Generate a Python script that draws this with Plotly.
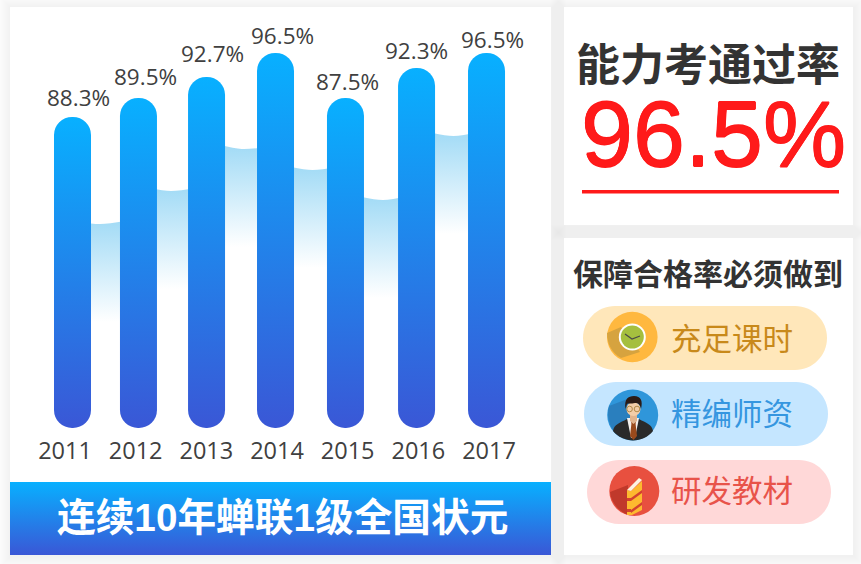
import plotly.graph_objects as go

# values printed above the bars
years = [2011, 2012, 2013, 2014, 2015, 2016, 2017]
rate_labels = ["88.3%", "89.5%", "92.7%", "96.5%", "87.5%", "92.3%", "96.5%"]

# drawn bar heights (the source art is not to scale with its labels)
bar_heights = [311, 330, 351, 375, 330, 360, 375]

# wave surface in each gap between two bars: left edge, middle, right edge
wave_left = [206, 240, 283, 261, 231, 295]
wave_mid = [204, 237, 279, 258, 228, 292]
wave_right = [207, 240, 281, 261, 232, 296]

feature_labels = ["充足课时", "精编师资", "研发教材"]
headline = "能力考通过率"
headline_value = "96.5%"
subhead = "保障合格率必须做到"
banner_text = "连续10年蝉联1级全国状元"

W, H = 861, 564
CJK = "Noto Sans CJK SC"
ARIAL_CJK = "Liberation Sans, Noto Sans CJK SC"
LATIN = "Open Sans"

BASE_Y = 428          # pixel row of the bars' foot
YEAR_STEP = 70.67     # pixels per year on the tick axis
FIRST_TICK = 65
BAR_W = 37
RADIUS = 18.5

# the artwork spaces bars a little unevenly against the year labels
bar_nudge = [7.5, 2.8, 0.2, -1.5, -2.2, -1.8, -2.5]
label_nudge = [13, 10, 6, 5, 0, -2, 3]
label_lift = [20, 22, 24, 18, 17, 18, 14]

year_range = [years[0] - FIRST_TICK / YEAR_STEP, years[0] + (W - FIRST_TICK) / YEAR_STEP]
height_range = [BASE_Y - H, BASE_Y]


def rect(x0, y0, x1, y1, color, opacity=1, layer="below"):
    return dict(type="rect", xref="x", yref="y", x0=x0, y0=y0, x1=x1, y1=y1,
                fillcolor=color, opacity=opacity, line_width=0, layer=layer)


def circle(cx, cy, r, color, line=None, layer="above"):
    return dict(type="circle", xref="x", yref="y", x0=cx - r, y0=cy - r, x1=cx + r, y1=cy + r,
                fillcolor=color, line=dict(width=1 if line else 0, color=line or color), layer=layer)


def path(d, color, line=None, width=0, layer="above"):
    return dict(type="path", xref="x", yref="y", path=d, fillcolor=color,
                line=dict(width=width, color=line or color), layer=layer)


def pill(x0, y0, x1, y1, color):
    r = (y1 - y0) / 2
    k = r * 0.448
    d = (
        f"M {x0 + r},{y0} L {x1 - r},{y0} C {x1 - k},{y0} {x1},{y0 + k} {x1},{y0 + r} "
        f"C {x1},{y1 - k} {x1 - k},{y1} {x1 - r},{y1} L {x0 + r},{y1} "
        f"C {x0 + k},{y1} {x0},{y1 - k} {x0},{y0 + r} C {x0},{y0 + k} {x0 + k},{y0} {x0 + r},{y0} Z"
    )
    return path(d, color, layer="below")


def note(x, y, text, size, color, family=CJK, bold=False, shadow=None):
    return dict(xref="x", yref="y", x=x, y=y, text=text, showarrow=False, xanchor="center",
                yanchor="middle", font=dict(family=family, size=size, color=color,
                                            weight=700 if bold else 400, shadow=shadow or "none"))


panels = [(10, 7, 551, 555), (564, 7, 853, 225), (564, 238, 853, 555)]
shapes = []
for x0, y0, x1, y1 in panels:
    for grow in range(1, 15):
        shapes.append(rect(x0 - grow + 1, y0 - grow + 1, x1 + grow + 1, y1 + grow + 1, "#000000", 0.0042))
for x0, y0, x1, y1 in panels:
    shapes.append(rect(x0, y0, x1, y1, "#ffffff"))

shapes.append(rect(582, 190, 839, 193.5, "#ff1a1a", layer="above"))
shapes.append(pill(583, 306, 827, 370, "#ffe7ba"))
shapes.append(pill(584, 382, 828, 446, "#c5e6ff"))
shapes.append(pill(587, 460, 831, 524, "#ffd8d8"))

# clock icon
shapes += [
    circle(632.3, 337, 25.3, "#ffb83f"),
    path("M 621,327 L 607,333 C 607,344 612,353 621,358 L 640,352 Z", "#d6a33f"),
    circle(632.3, 337, 13.5, "#ffffff"),
    circle(632.3, 337, 11.5, "#a5bf3f"),
    path("M 625,334 L 632,339 L 640,336", "rgba(0,0,0,0)", "#4a4a48", 1.2),
]

# teacher icon
shapes += [
    circle(632.7, 415, 25.5, "#2f96da"),
    path("M 630,398 L 609,406 C 606,418 610,430 620,437 L 640,437 Z", "#2a7fbe"),
    path("M 627,419 C 620,423 614,424 613,431 C 618,437 626,440.5 633,440.5 "
         "C 641,440.5 648,437 653,431 C 652,424 646,423 639,419 Z", "#2a2a2a"),
    path("M 627,418 L 639,418 L 635,438 L 631,438 Z", "#f4f1ee"),
    path("M 631,421 L 636,421 L 635.6,424 L 637,436 L 633.5,440 L 630,436 L 631.4,424 Z", "#9a4a1c"),
    path("M 630,414 L 637,414 L 637,421 L 633.5,424 L 630,421 Z", "#e0b48e"),
    circle(633.5, 409, 7, "#f2cda8"),
    path("M 625.5,409 C 624,399 628,396 634,396 C 641,396 643,401 641,409 "
         "C 640,404 638,403 635,403 C 631,404 628,403 627,404 Z", "#2b1b16"),
    circle(629.6, 409, 2.8, "rgba(0,0,0,0)", "#b08a4a"),
    circle(637, 409, 2.8, "rgba(0,0,0,0)", "#b08a4a"),
]

# book icon
shapes += [
    circle(634.3, 491, 25, "#e8503f"),
    path("M 628,485 L 610,492 C 611,502 618,511 628,515 Z", "#c0392b"),
    path("M 627,490 L 631,491 L 642,481 L 642,510 L 632,515 L 627,515 Z", "#fdb92f"),
    path("M 627,490 L 639,478 L 642,480 L 631,491 Z", "#fdf4e0"),
    path("M 631,498 L 642,490 L 642,493 L 631,501 Z", "#d2412f"),
    path("M 631,510 L 642,502 L 642,505 L 631,513 Z", "#d2412f"),
    path("M 627,498 L 631,498 L 631,501 L 627,501 Z", "#d2412f"),
    path("M 627,509 L 631,509 L 631,512 L 627,512 Z", "#d2412f"),
]

fig = go.Figure()

# bottom banner lives on the pixel axes so its gradient stays exact
fig.add_trace(go.Scatter(
    x=[10, 551, 551, 10, 10], y=[482, 482, 555, 555, 482], mode="lines", fill="toself",
    line=dict(width=0), hoverinfo="skip", showlegend=False, xaxis="x", yaxis="y",
    fillgradient=dict(type="vertical", colorscale=[[0, "#3a57d6"], [1, "#08b0ff"]]),
))

# translucent wave between the bars, one fade per gap
for i in range(len(years) - 1):
    yr = years[i]
    fig.add_trace(go.Scatter(
        x=[yr + 0.2, yr + 0.5, yr + 0.85], y=[wave_left[i], wave_mid[i], wave_right[i]],
        mode="lines", line=dict(width=0, shape="spline"), fill="tozeroy",
        fillgradient=dict(type="vertical", colorscale=[[0, "#ffffff"], [1, "#a5dcf6"]],
                          start=wave_mid[i] - 98, stop=wave_mid[i]),
        hoverinfo="skip", showlegend=False, xaxis="x2", yaxis="y2",
    ))

# a non-zero base makes plotly round both ends of the bar
offsets = [(n - BAR_W / 2) / YEAR_STEP for n in bar_nudge]
fig.add_trace(go.Bar(
    x=years, y=bar_heights, base=0.01, width=BAR_W / YEAR_STEP, offset=offsets,
    marker=dict(color="#1f86ea", cornerradius=RADIUS, line_width=0),
    hoverinfo="skip", showlegend=False, xaxis="x3", yaxis="y3",
))

annotations = []
for i, label in enumerate(rate_labels):
    annotations.append(dict(xref="x3", yref="y3", x=years[i], y=bar_heights[i], text=label, showarrow=False,
                            xanchor="center", yanchor="middle", xshift=label_nudge[i], yshift=label_lift[i],
                            font=dict(family=LATIN, size=22.5, color="#404040")))

thicken = "0.6px 0 0 #ff1a1a, -0.6px 0 0 #ff1a1a, 0 0.6px 0 #ff1a1a, 0 -0.6px 0 #ff1a1a"
annotations += [
    note(708, 62, headline, 44, "#333333", bold=True),
    note(713, 133.5, headline_value, 93.5, "#ff1a1a", family="Liberation Sans", shadow=thicken),
    note(707.5, 272, subhead, 30, "#333333", bold=True),
    note(732, 336.5, feature_labels[0], 30.5, "#c8891a"),
    note(732, 411.5, feature_labels[1], 30.5, "#3596e0"),
    note(732, 488.5, feature_labels[2], 30.5, "#e8534a"),
    note(282, 517, banner_text, 38.7, "#ffffff", family=ARIAL_CJK, bold=True),
]

hidden = dict(visible=False, showgrid=False, zeroline=False, fixedrange=True)
fig.update_layout(
    width=W, height=H, margin=dict(l=0, r=0, t=0, b=0), autosize=False,
    paper_bgcolor="#ffffff", plot_bgcolor="rgba(0,0,0,0)", barmode="overlay", hovermode=False,
    shapes=shapes, annotations=annotations,
    xaxis=dict(hidden, range=[0, W]),
    yaxis=dict(hidden, range=[H, 0]),
    xaxis2=dict(
        overlaying="x", range=year_range, anchor="free", position=(H - BASE_Y) / H, showgrid=False,
        zeroline=False, showline=False, fixedrange=True, tickmode="array", tickvals=years,
        ticktext=[str(y) for y in years], ticks="", ticklabelstandoff=6,
        tickfont=dict(family=LATIN, size=23.5, color="#404040"),
    ),
    yaxis2=dict(hidden, overlaying="y", range=height_range),
    xaxis3=dict(hidden, overlaying="x", range=year_range),
    yaxis3=dict(hidden, overlaying="y", range=height_range),
)

# plotly bars take one flat colour, so the vertical gradient is attached after drawing
post_script = """
document.body.style.margin = '0';
var gd = document.getElementById('{plot_id}');
var svg = gd.querySelector('.main-svg');
var ns = 'http://www.w3.org/2000/svg';
var grad = document.createElementNS(ns, 'linearGradient');
grad.setAttribute('id', 'barFade');
grad.setAttribute('x1', '0'); grad.setAttribute('y1', '0');
grad.setAttribute('x2', '0'); grad.setAttribute('y2', '1');
[['0', '#08b0ff'], ['1', '#3a57d6']].forEach(function (s) {
    var stop = document.createElementNS(ns, 'stop');
    stop.setAttribute('offset', s[0]);
    stop.setAttribute('stop-color', s[1]);
    grad.appendChild(stop);
});
svg.querySelector('defs').appendChild(grad);
gd.querySelectorAll('.barlayer .trace path').forEach(function (p) {
    p.style.fill = 'url(#barFade)';
});
"""

fig.write_html("out.html", config={"displayModeBar": False}, post_script=post_script)
